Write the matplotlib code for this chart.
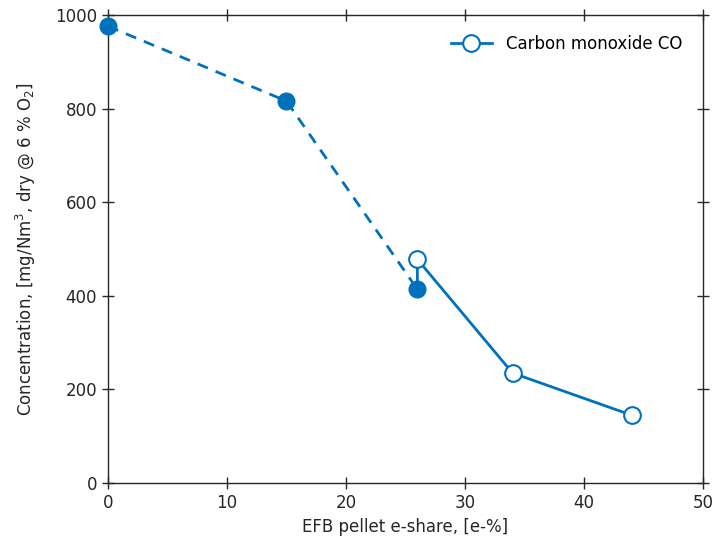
import matplotlib
matplotlib.use("Agg")
import matplotlib.pyplot as plt

# reference fuel (filled markers, dashed)
ref_x = [0, 15, 26]
ref_y = [976, 816, 414]

# EFB pellet co-firing (open markers, solid)
efb_x = [26, 34, 44]
efb_y = [478, 235, 145]

BLUE = "#0072BD"
DARK = "#262626"

plt.rcParams["font.family"] = "DejaVu Sans"
plt.rcParams["font.size"] = 12
plt.rcParams["mathtext.default"] = "regular"

fig = plt.figure(figsize=(7.18, 5.49), dpi=100)
ax = fig.add_axes([0.1504, 0.1202, 0.8286, 0.8525])

ax.plot(ref_x, ref_y, color=BLUE, lw=2, ls=(0, (4, 3)), marker="o",
        ms=12, mfc=BLUE, mec=BLUE, zorder=3, clip_on=False)

# solid line starts at the last reference point, markers only on the EFB points
line_x = [ref_x[-1]] + efb_x
line_y = [ref_y[-1]] + efb_y
ax.plot(line_x, line_y, color=BLUE, lw=2, marker="o", ms=12, mfc="white",
        mec=BLUE, mew=1.5, markevery=[1, 2, 3], label="Carbon monoxide CO",
        zorder=4, clip_on=False)

ax.set_xlim(0, 50)
ax.set_ylim(0, 1000)
ax.set_xticks(range(0, 51, 10))
ax.set_yticks(range(0, 1001, 200))
ax.tick_params(direction="inout", length=9, width=1, colors=DARK,
               top=True, right=True, labelsize=12)
for s in ax.spines.values():
    s.set_color(DARK)
    s.set_linewidth(1)

ax.set_xlabel("EFB pellet e-share, [e-%]", color=DARK, fontsize=12)
ax.set_ylabel("Concentration, [mg/Nm$^3$, dry @ 6 % O$_2$]", color=DARK,
              fontsize=12, labelpad=12)

ax.legend(loc="upper right", frameon=False, fontsize=12,
          bbox_to_anchor=(0.99, 0.99), handlelength=2.5)

fig.savefig("out.png", dpi=100)
